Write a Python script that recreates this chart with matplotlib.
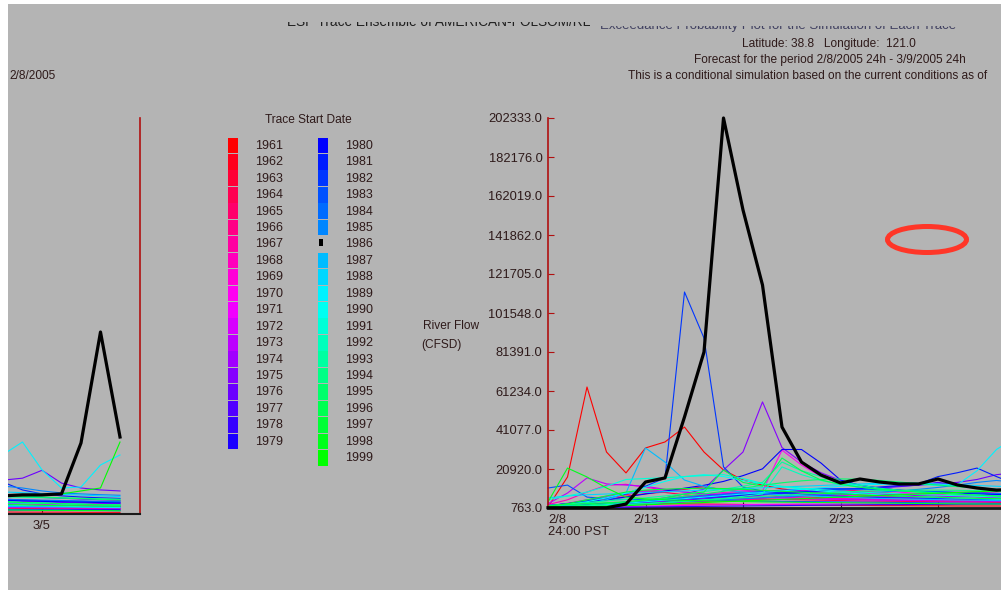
import colorsys
import numpy as np
import matplotlib.pyplot as plt
from matplotlib.patches import Rectangle, Ellipse

plt.rcParams['font.family'] = ['Liberation Sans', 'DejaVu Sans']

W, H = 1001, 590
BG = '#b4b4b4'
INK = '#2e1a1a'
SPINE_RED = '#b01010'

# daily values (cfs), day 0 = 2/8 ... day 29 = 3/9
days = np.arange(30)
years = list(range(1961, 2000))

t1961 = [1300, 16800, 63300, 29700, 18900, 31800, 34900, 42600, 29700, 20400, 15200, 12600, 10600, 9500, 8700, 8000, 7500, 7100, 6700, 6400, 6100, 5800, 5600, 5400, 5200, 5000, 4900, 4800, 4700, 4600]
t1962 = [900, 1200, 1600, 2000, 2400, 2800, 3000, 2900, 2800, 2700, 2600, 2500, 2400, 2300, 2200, 2100, 2100, 2000, 2000, 1900, 1900, 1800, 1800, 1800, 1700, 1700, 1700, 1600, 1600, 1600]
t1963 = [1100, 2200, 3400, 4800, 6800, 8200, 9000, 10400, 11800, 10200, 9000, 8000, 7200, 6600, 6100, 5700, 5400, 5100, 4900, 4700, 4500, 4300, 4200, 4000, 3900, 3800, 3700, 3600, 3500, 3500]
t1964 = [1500, 2600, 4200, 5800, 7600, 9600, 8800, 7600, 6800, 6200, 5800, 5500, 5200, 5000, 4800, 4600, 4400, 4300, 4200, 4100, 4000, 3900, 3800, 3700, 3600, 3600, 3500, 3400, 3400, 3300]
t1965 = [800, 1200, 1700, 2200, 2800, 3600, 4400, 5400, 6500, 7400, 8200, 9000, 8600, 8000, 7400, 6900, 6500, 6200, 5900, 5600, 5400, 5200, 5000, 4800, 4700, 4600, 4500, 4400, 4300, 4200]
t1966 = [1000, 1400, 1800, 2200, 2600, 3000, 3400, 3800, 4200, 4600, 5200, 6000, 7000, 8200, 9400, 10200, 9600, 8800, 8200, 7800, 7400, 7000, 6700, 6400, 6100, 5900, 5700, 5500, 5300, 5200]
t1967 = [1200, 1800, 2400, 3000, 3600, 4000, 4300, 4600, 4800, 5000, 5100, 5200, 5300, 5400, 5500, 5600, 5800, 6000, 6400, 7000, 7800, 8600, 9000, 8400, 7800, 7200, 6800, 6400, 6000, 5800]
t1968 = [2500, 5000, 9000, 12500, 13000, 11500, 10000, 9000, 8200, 7600, 7100, 6700, 6300, 6000, 5700, 5500, 5300, 5100, 4900, 4700, 4600, 4500, 4400, 4300, 4200, 4100, 4000, 3900, 3800, 3800]
t1969 = [900, 1300, 1800, 2400, 3200, 4200, 5400, 6800, 8000, 8800, 9200, 9400, 9600, 9800, 9600, 9200, 8800, 8400, 8000, 7600, 7300, 7000, 6700, 6400, 6200, 6000, 5800, 5600, 5400, 5300]
t1970 = [1200, 1600, 2000, 2500, 3000, 3600, 4200, 4800, 5400, 6000, 7000, 9500, 30700, 23000, 17000, 13500, 11500, 10000, 9000, 8200, 7600, 7100, 6700, 6300, 6000, 5700, 5500, 5300, 5100, 5000]
t1971 = [700, 900, 1100, 1300, 1500, 1700, 1900, 2100, 2300, 2400, 2500, 2600, 2700, 2800, 2800, 2900, 2900, 2900, 2900, 2800, 2800, 2800, 2700, 2700, 2700, 2600, 2600, 2600, 2500, 2500]
t1972 = [1800, 3200, 5000, 6800, 8200, 9400, 10200, 10800, 11000, 10600, 10000, 9400, 8800, 8200, 7700, 7300, 6900, 6600, 6300, 6000, 5800, 5600, 5400, 5200, 5000, 4900, 4800, 4700, 4600, 4500]
t1973 = [3000, 8500, 16300, 13200, 12600, 12000, 10400, 9000, 8000, 7300, 6800, 6400, 6000, 5700, 5400, 5200, 5000, 4800, 4700, 4600, 4500, 4400, 4300, 4200, 4100, 4000, 3900, 3800, 3800, 3700]
t1974 = [1000, 1500, 2100, 2800, 3600, 4500, 5500, 6500, 7400, 8100, 8600, 8900, 9000, 8900, 8700, 8400, 8100, 7800, 7500, 7200, 6900, 6700, 6500, 6300, 6100, 5900, 5800, 5700, 5600, 5500]
t1975 = [1500, 2000, 2500, 3000, 3600, 4500, 6000, 8000, 10500, 20400, 29700, 55600, 32000, 24500, 19000, 15000, 12500, 11000, 10000, 9300, 8700, 8200, 7800, 7400, 7100, 6800, 6600, 6400, 6200, 6000]
t1976 = [1300, 1800, 2400, 3000, 3600, 4200, 4800, 5400, 6000, 6600, 7200, 7800, 8400, 9000, 9600, 10200, 10800, 11400, 12000, 12600, 13200, 14000, 15500, 18000, 19000, 23000, 16500, 14000, 13000, 12500]
t1977 = [900, 1300, 1700, 2200, 2800, 3400, 4000, 4700, 5400, 6100, 6800, 7500, 8200, 8800, 9400, 10000, 10600, 11200, 11800, 12600, 14000, 12600, 11200, 10400, 9800, 9200, 8800, 8400, 8000, 7700]
t1978 = [800, 900, 1000, 1100, 1200, 1300, 1400, 1500, 1600, 1700, 1800, 1900, 2000, 2100, 2200, 2300, 2400, 2500, 2500, 2600, 2600, 2700, 2700, 2800, 2800, 2900, 2900, 3000, 3000, 3100]
t1979 = [1000, 1400, 1900, 2500, 3200, 4000, 4800, 5600, 6400, 7200, 8000, 8800, 9600, 10200, 10600, 10800, 10600, 10200, 9800, 9400, 9000, 8700, 8400, 8100, 7800, 7600, 7400, 7200, 7000, 6800]
t1980 = [2000, 3000, 4000, 5000, 6500, 8000, 9500, 11000, 12500, 14500, 17500, 21000, 31000, 31000, 24000, 15200, 12500, 11000, 10000, 9400, 8900, 8500, 8100, 7800, 7500, 7200, 7000, 6800, 6600, 6400]
t1981 = [1500, 2000, 2600, 3200, 3800, 4400, 5000, 5600, 6200, 6800, 7400, 8000, 8600, 9200, 9800, 10400, 11000, 11600, 12400, 13200, 17000, 19000, 21400, 17000, 13000, 11000, 10000, 9400, 9000, 8700]
t1982 = [2000, 3000, 4500, 6000, 8000, 12000, 16300, 112400, 88600, 22000, 11600, 9500, 8500, 7800, 7200, 6800, 6500, 6200, 6000, 5800, 5600, 5400, 5200, 5000, 4900, 4800, 4700, 4600, 4500, 4400]
t1983 = [11100, 12600, 6400, 5600, 5200, 5000, 4800, 4700, 4600, 4500, 4400, 4300, 4200, 4100, 4000, 3900, 3800, 3700, 3600, 3500, 3400, 3300, 3200, 3100, 3000, 2900, 2800, 2700, 2600, 2500]
t1984 = [1200, 1700, 2300, 3000, 3800, 4600, 5400, 6200, 7000, 7800, 8600, 9400, 10000, 10400, 10600, 10600, 10400, 10100, 9800, 9500, 9200, 8900, 8600, 8300, 8000, 7800, 7600, 7400, 7200, 7000]
t1985 = [900, 1200, 1600, 2000, 2500, 3000, 3500, 4000, 4500, 5000, 5500, 6000, 6500, 7000, 7500, 8000, 8500, 9000, 9600, 10400, 11400, 12600, 14000, 15000, 14000, 12500, 11500, 11000, 10600, 10300]
t1986 = [900, 900, 900, 900, 2800, 14200, 16300, 47800, 81400, 202333, 154800, 116000, 42600, 24500, 17800, 13700, 15750, 14200, 13200, 13200, 15750, 12650, 11100, 10000, 10500, 10500, 11000, 36900, 93400, 39950]
t1987 = [1200, 2000, 3000, 5000, 8500, 31800, 24500, 15200, 12000, 10000, 9000, 8200, 7600, 7100, 6700, 6300, 6000, 5700, 5500, 5300, 5100, 4900, 4800, 4600, 4500, 4400, 4300, 4200, 4100, 4000]
t1988 = [6000, 7000, 7600, 8000, 8400, 8800, 9200, 9600, 10000, 10400, 10800, 11200, 11600, 12000, 12400, 12800, 13200, 13600, 13800, 13600, 13200, 12800, 12400, 12000, 11600, 11200, 10800, 10400, 10000, 9600]
t1989 = [1000, 1400, 1900, 2500, 3200, 4000, 4800, 5600, 6400, 7200, 8000, 8800, 9600, 10400, 11200, 12000, 12600, 13000, 13200, 13000, 12400, 12800, 20000, 31000, 37400, 23200, 14000, 14500, 25700, 30800]
t1990 = [1500, 2500, 4000, 6000, 8500, 11500, 14500, 17000, 18000, 17000, 15000, 13200, 11800, 10600, 9600, 8800, 8100, 7500, 7000, 6600, 6200, 5900, 5600, 5300, 5100, 4900, 4700, 4500, 4300, 4200]
t1991 = [5000, 7000, 9000, 12000, 15500, 16000, 16400, 17000, 17500, 18000, 16000, 13500, 12000, 11000, 10200, 9500, 9000, 8500, 8100, 7700, 7400, 7100, 6800, 6500, 6300, 6100, 5900, 5700, 5500, 5400]
t1992 = [800, 1100, 1500, 1900, 2400, 3000, 3600, 4300, 5000, 5800, 6800, 8000, 22000, 18000, 15000, 13000, 11500, 10500, 9700, 9000, 8400, 7900, 7400, 7000, 6600, 6300, 6000, 5700, 5500, 5300]
t1993 = [2000, 2800, 3600, 4400, 5200, 6000, 7000, 8000, 9200, 10500, 12000, 14000, 24500, 20000, 17000, 14500, 12500, 11000, 10000, 9200, 8600, 8000, 7500, 7100, 6700, 6400, 6100, 5800, 5600, 5400]
t1994 = [1000, 1300, 1700, 2100, 2600, 3100, 3700, 4300, 4900, 5500, 6100, 6700, 7300, 7900, 8500, 9000, 9400, 9700, 9900, 10000, 10000, 9900, 9700, 9500, 9300, 9100, 8900, 8700, 8500, 8300]
t1995 = [1200, 1700, 2300, 3000, 3800, 4700, 5700, 6800, 8000, 9400, 11000, 12500, 13800, 14800, 15500, 15800, 15600, 15000, 14200, 13400, 12600, 11800, 11100, 10500, 9900, 9400, 9000, 8600, 8200, 7900]
t1996 = [2000, 2500, 3000, 3500, 4000, 5000, 6000, 8000, 9000, 20400, 14000, 12000, 26600, 20000, 15200, 13000, 11500, 10500, 9700, 9000, 8400, 7900, 7400, 7000, 6600, 6300, 6000, 5700, 5500, 5300]
t1997 = [1500, 3000, 5000, 7000, 9000, 10000, 10500, 10800, 11000, 10800, 10400, 9900, 9400, 8900, 8400, 8000, 7600, 7200, 6900, 6600, 6300, 6000, 5800, 5600, 5400, 5200, 5000, 4900, 4800, 4700]
t1998 = [3900, 21400, 16800, 11100, 6400, 5500, 5000, 4700, 4500, 4300, 4100, 3900, 3800, 3700, 3600, 3500, 3400, 3300, 3200, 3100, 3000, 2900, 2800, 2800, 2700, 2600, 2600, 2500, 2500, 2400]
t1999 = [800, 1000, 1300, 1600, 2000, 2400, 2800, 3200, 3600, 4000, 4400, 4800, 5200, 5600, 6000, 6400, 6800, 7200, 7600, 8000, 8400, 8800, 9200, 9600, 10000, 10400, 11000, 12500, 14000, 37400]

traces = [t1961, t1962, t1963, t1964, t1965, t1966, t1967, t1968, t1969, t1970,
          t1971, t1972, t1973, t1974, t1975, t1976, t1977, t1978, t1979, t1980,
          t1981, t1982, t1983, t1984, t1985, t1986, t1987, t1988, t1989, t1990,
          t1991, t1992, t1993, t1994, t1995, t1996, t1997, t1998, t1999]
black_year = 1986

y_ticks = [763.0, 20920.0, 41077.0, 61234.0, 81391.0, 101548.0,
           121705.0, 141862.0, 162019.0, 182176.0, 202333.0]
x_tick_days = [0, 5, 10, 15, 20]
x_tick_labels = ['2/8', '2/13', '2/18', '2/23', '2/28']
left_tick_days = [25]
left_tick_labels = ['3/5']

# colour per trace: hue runs red -> magenta -> blue -> cyan -> green
colors = []
for i, yr in enumerate(years):
    if yr == black_year:
        colors.append('black')
    else:
        h = ((360 - i * 240 / 38) % 360) / 360
        colors.append(colorsys.hsv_to_rgb(h, 1, 1))

fig = plt.figure(figsize=(W / 100, H / 100), dpi=100)
fig.patch.set_facecolor(BG)


def px_axes(x0, y0, x1, y1):
    a = fig.add_axes([x0 / W, 1 - y1 / H, (x1 - x0) / W, (y1 - y0) / H])
    a.set_facecolor('none')
    return a


day_px = 19.5

# main panel
ax = px_axes(548, 118, 1001, 508)
ax.set_xlim(0, (1001 - 548) / day_px)
ax.set_ylim(763, 202333)
# left (clipped) panel showing the end of the period
axl = px_axes(8, 118, 140, 514)
axl.set_xlim(25 - (42 - 8) / day_px, 25 + (140 - 42) / day_px)
axl.set_ylim(763, 202333)

for a, clip in [(ax, False), (axl, True)]:
    for yr, t, c in zip(years, traces, colors):
        if yr == black_year:
            continue
        a.plot(days, t, color=c, lw=0.8, clip_on=clip, zorder=2)
    a.plot(days, traces[years.index(black_year)], color='black', lw=2.3,
           clip_on=clip, zorder=5)

for s in ['top', 'right']:
    ax.spines[s].set_visible(False)
ax.spines['left'].set_color(SPINE_RED)
ax.spines['left'].set_linewidth(1.2)
ax.spines['bottom'].set_color('#1a1a1a')
ax.spines['bottom'].set_linewidth(2)
ax.spines['bottom'].set_zorder(1)
ax.set_yticks(y_ticks)
ax.set_yticklabels(['%.1f' % v for v in y_ticks])
ax.set_xticks(x_tick_days)
ax.set_xticklabels(x_tick_labels)
ax.get_xticklabels()[0].set_horizontalalignment('left')
ax.tick_params(axis='y', direction='in', length=4, color=SPINE_RED,
               labelsize=9.3, labelcolor=INK, pad=4)
ax.tick_params(axis='x', direction='in', length=4, color='#1a1a1a',
               labelsize=9.3, labelcolor=INK, pad=4)

for s in ['top', 'left']:
    axl.spines[s].set_visible(False)
axl.spines['right'].set_color(SPINE_RED)
axl.spines['right'].set_linewidth(1.2)
axl.spines['bottom'].set_color('#1a1a1a')
axl.spines['bottom'].set_linewidth(1.5)
axl.set_yticks([])
axl.set_xticks(left_tick_days)
axl.set_xticklabels(left_tick_labels)
axl.tick_params(axis='x', direction='in', length=4, color='#1a1a1a',
                labelsize=9.3, labelcolor=INK, pad=4)

# overlay in pixel coordinates for texts, legend and marks
ov = fig.add_axes([0, 0, 1, 1])
ov.set_xlim(0, W)
ov.set_ylim(H, 0)
ov.axis('off')
ov.set_zorder(10)

# title line is cut off by the window edge: only its lower part shows
ov.text(287, 26.5, 'ESP Trace Ensemble of AMERICAN-FOLSOM/RES', fontsize=9.8,
        color='#202020', va='baseline', zorder=1)
ov.text(600, 28.5, 'Exceedance Probability Plot for the Simulation of Each Trace',
        fontsize=9.5, color='#404060', va='baseline', zorder=1)
ov.add_patch(Rectangle((250, 0), 751, 21.5, facecolor=BG, edgecolor='none', zorder=4))
ov.add_patch(Rectangle((590, 0), 411, 26, facecolor=BG, edgecolor='none', zorder=4))

ov.text(829, 44, 'Latitude: 38.8   Longitude:  121.0', fontsize=8.6, color=INK,
        ha='center', va='center')
ov.text(830, 60, 'Forecast for the period 2/8/2005 24h - 3/9/2005 24h', fontsize=8.6,
        color=INK, ha='center', va='center')
ov.text(628, 76, 'This is a conditional simulation based on the current conditions as of',
        fontsize=8.6, color=INK, ha='left', va='center')
ov.text(9, 76, '2/8/2005', fontsize=8.6, color=INK, ha='left', va='center')

ov.text(423, 326, 'River Flow', fontsize=8.6, color=INK, ha='left', va='center')
ov.text(421, 345, '(CFSD)', fontsize=8.6, color=INK, ha='left', va='center')
ov.text(548, 532, '24:00 PST', fontsize=9.3, color=INK, ha='left', va='center')

# legend
ov.text(308, 120, 'Trace Start Date', fontsize=8.6, color=INK, ha='center', va='center')
row_h = 16.45
for i, (yr, c) in enumerate(zip(years, colors)):
    col, row = (0, i) if i < 19 else (1, i - 19)
    sx = 228 if col == 0 else 318
    top = 137.5 + row * row_h
    if yr == black_year:
        ov.add_patch(Rectangle((sx + 1, top + 3), 4, 7, facecolor='black', edgecolor='none'))
    else:
        ov.add_patch(Rectangle((sx, top), 10, row_h - 0.8, facecolor=c, edgecolor='none'))
    ov.text(sx + 27, top + row_h / 2, str(yr), fontsize=9, color=INK,
            ha='left', va='center')

# red highlight ring
ov.add_patch(Ellipse((927, 239.5), 79, 26, fill=False, edgecolor='#ff3628', lw=3.6))

# white scan borders
ov.add_patch(Rectangle((0, 0), W, 4, facecolor='white', edgecolor='none', zorder=6))
ov.add_patch(Rectangle((0, 0), 8, H, facecolor='white', edgecolor='none', zorder=6))

fig.savefig('out.png', dpi=100, facecolor=BG)
